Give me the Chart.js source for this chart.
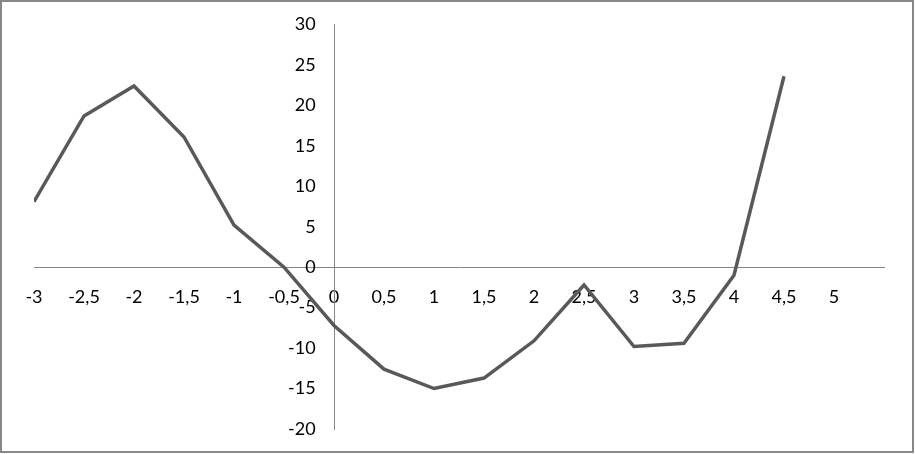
<!DOCTYPE html>
<html>
<head>
<meta charset="utf-8">
<script src="https://cdn.jsdelivr.net/npm/chart.js@4"></script>
<style>
  body { margin: 0; background: #fff; }
  #wrap { position: relative; width: 915px; height: 454px; }
  #frame { position: absolute; left: 0; top: 0; width: 914px; height: 453px;
           box-sizing: border-box; border: 2px solid #878787; pointer-events: none; }
</style>
</head>
<body>
<div id="wrap">
  <canvas id="lineChart" width="915" height="454"></canvas>
  <div id="frame"></div>
</div>
<script>
// x values of the points
var xValues = [-3, -2.5, -2, -1.5, -1, -0.5, 0, 0.5, 1, 1.5, 2, 2.5, 3, 3.5, 4, 4.5]
// y values
var yValues = [8.1, 18.7, 22.4, 16.1, 5.2, 0, -7.2, -12.6, -15.0, -13.7, -9.1, -2.2, -9.8, -9.4, -1.0, 23.6]
// axis ranges
var xRange = [-3, 5.5]
var yRange = [-20, 30]

var points = xValues.map((x, i) => ({x: x, y: yValues[i]}))

var fmt = v => String(v).replace('.', ',')

var ctxL = document.getElementById("lineChart").getContext('2d');
var myLineChart = new Chart(ctxL, {
  type: 'line',
  data: {
    datasets: [{
      data: points,
      borderColor: '#595959',
      borderWidth: 3.5,
      pointRadius: 0,
      tension: 0,
      fill: false
    }]
  },
  options: {
    responsive: false,
    animation: false,
    layout: { padding: { left: 34, right: 31, top: 24.5, bottom: 25 } },
    plugins: { legend: { display: false }, tooltip: { enabled: false } },
    scales: {
      x: {
        type: 'linear',
        position: { y: 0 },
        min: xRange[0],
        max: xRange[1],
        grid: { display: false },
        border: { display: true, color: '#868686', width: 1 },
        ticks: {
          stepSize: 0.5,
          padding: 11,
          maxRotation: 0,
          autoSkip: false,
          color: '#000',
          font: { family: 'Lato', size: 18 },
          callback: v => v > 5 ? '' : fmt(v)
        }
      },
      y: {
        type: 'linear',
        position: { x: 0 },
        min: yRange[0],
        max: yRange[1],
        grid: { display: false },
        border: { display: true, color: '#868686', width: 1 },
        ticks: {
          stepSize: 5,
          color: '#000',
          font: { family: 'Lato', size: 18 },
          // centred axes ignore ticks.padding, so pad with trailing spaces
          callback: v => fmt(v) + '    '
        }
      }
    }
  }
});
</script>
</body>
</html>
